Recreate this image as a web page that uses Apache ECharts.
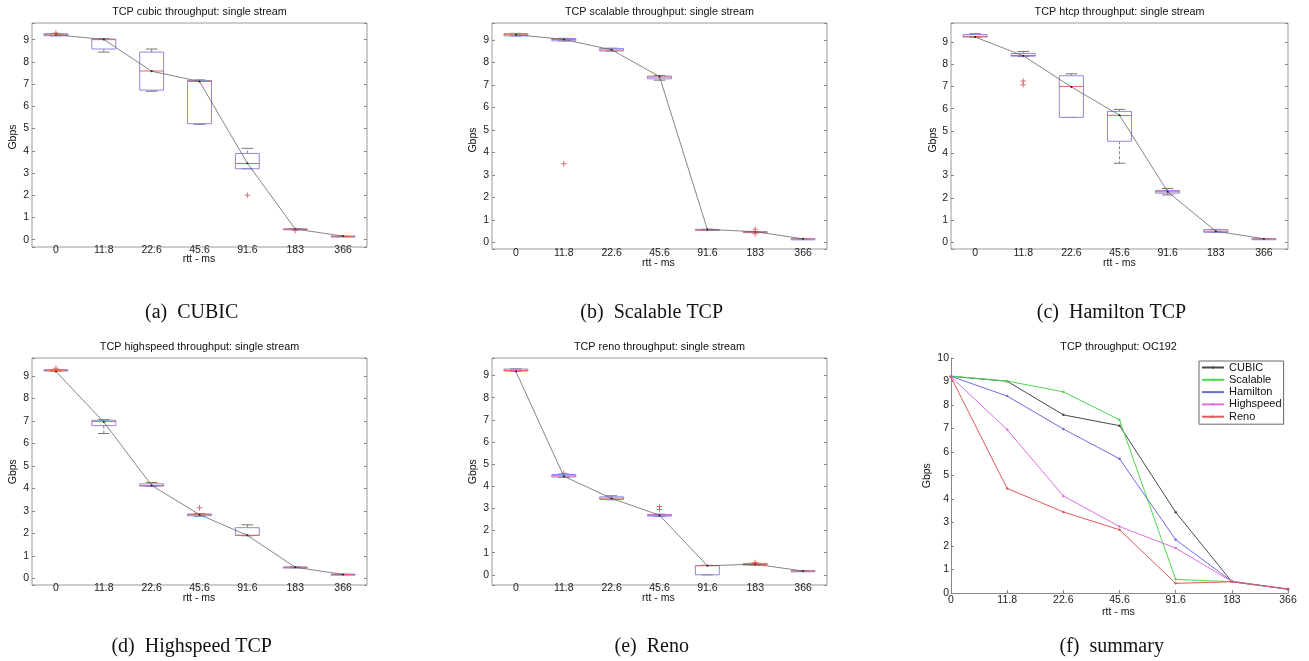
<!DOCTYPE html>
<html><head><meta charset="utf-8">
<script src="https://cdn.jsdelivr.net/npm/echarts@6/dist/echarts.min.js"></script>
<style>html,body{margin:0;padding:0;background:#fff}#c{width:1309px;height:661px}</style>
</head><body><div id="c"></div>
<script>
// ---------------- data ----------------
const rttLabels = ['0', '11.8', '22.6', '45.6', '91.6', '183', '366'];

// box stats per rtt: [min, q1, median, q3, max]
const cubicBox = [
  [9.17, 9.18, 9.22, 9.27, 9.28],
  [8.44, 8.58, 9.00, 9.03, 9.05],
  [6.68, 6.73, 7.59, 8.44, 8.58],
  [5.19, 5.22, 7.12, 7.16, 7.19],
  [3.19, 3.19, 3.43, 3.88, 4.11],
  [0.45, 0.45, 0.47, 0.49, 0.50],
  [0.14, 0.14, 0.15, 0.16, 0.16]
];
const cubicOutliers = [[0, 9.30], [4, 2.00], [5, 0.41]];
const cubicMean = [9.22, 9.01, 7.58, 7.12, 3.44, 0.48, 0.16];

const scalableBox = [
  [9.17, 9.18, 9.23, 9.28, 9.29],
  [8.95, 8.96, 9.02, 9.06, 9.07],
  [8.50, 8.51, 8.55, 8.62, 8.63],
  [7.21, 7.27, 7.35, 7.39, 7.42],
  [0.53, 0.54, 0.56, 0.58, 0.59],
  [0.44, 0.45, 0.46, 0.48, 0.49],
  [0.15, 0.15, 0.16, 0.16, 0.17]
];
const scalableOutliers = [[1, 3.50], [5, 0.59], [5, 0.39]];
const scalableMean = [9.23, 9.02, 8.56, 7.37, 0.58, 0.48, 0.16];

const htcpBox = [
  [9.21, 9.22, 9.25, 9.33, 9.37],
  [8.34, 8.36, 8.39, 8.48, 8.57],
  [5.61, 5.61, 7.00, 7.48, 7.57],
  [3.55, 4.54, 5.70, 5.88, 5.97],
  [2.13, 2.21, 2.27, 2.33, 2.42],
  [0.45, 0.45, 0.50, 0.57, 0.58],
  [0.14, 0.15, 0.15, 0.16, 0.16]
];
const htcpOutliers = [[1, 7.25], [1, 7.08]];
const htcpMean = [9.22, 8.38, 6.98, 5.71, 2.27, 0.50, 0.16];

const highspeedBox = [
  [9.21, 9.22, 9.25, 9.28, 9.29],
  [6.44, 6.79, 6.97, 7.03, 7.06],
  [4.08, 4.10, 4.12, 4.20, 4.26],
  [2.76, 2.78, 2.83, 2.86, 2.88],
  [1.89, 1.91, 1.91, 2.25, 2.38],
  [0.47, 0.48, 0.49, 0.50, 0.51],
  [0.16, 0.17, 0.17, 0.18, 0.18]
];
const highspeedOutliers = [[0, 9.34], [3, 3.14]];
const highspeedMean = [9.20, 6.95, 4.13, 2.83, 1.91, 0.49, 0.17];

const renoBox = [
  [9.19, 9.20, 9.23, 9.29, 9.30],
  [4.40, 4.42, 4.47, 4.53, 4.55],
  [3.39, 3.40, 3.46, 3.52, 3.57],
  [2.63, 2.65, 2.69, 2.72, 2.74],
  [0.00, 0.00, 0.41, 0.42, 0.43],
  [0.43, 0.44, 0.47, 0.51, 0.52],
  [0.16, 0.17, 0.18, 0.18, 0.19]
];
const renoOutliers = [[1, 4.59], [3, 3.09], [3, 2.95], [5, 0.56]];
const renoMean = [9.18, 4.45, 3.45, 2.69, 0.41, 0.48, 0.17];

const panelTitles = [
  'TCP cubic throughput: single stream',
  'TCP scalable throughput: single stream',
  'TCP htcp throughput: single stream',
  'TCP highspeed throughput: single stream',
  'TCP reno throughput: single stream',
  'TCP throughput: OC192'
];
const captions = ['(a)  CUBIC', '(b)  Scalable TCP', '(c)  Hamilton TCP', '(d)  Highspeed TCP', '(e)  Reno', '(f)  summary'];
const legendNames = ['CUBIC', 'Scalable', 'Hamilton', 'Highspeed', 'Reno'];
const summaryColors = ['#4a4a4a', '#4cd94c', '#6d6de0', '#e070e0', '#e05a5a'];

// ---------------- layout ----------------
const SANS = 'Liberation Sans, Arial, sans-serif';
const SERIF = 'Liberation Serif, Times New Roman, serif';
const grids = [
  {left: 32, top: 23, width: 335, height: 224},
  {left: 492, top: 23, width: 335, height: 226},
  {left: 951, top: 23, width: 337, height: 226},
  {left: 32, top: 358, width: 335, height: 227},
  {left: 492, top: 358, width: 335, height: 227},
  {left: 951, top: 358, width: 337, height: 235}
];
const yRanges = [[-0.33, 9.75], [-0.29, 9.75], [-0.30, 9.85], [-0.30, 9.80], [-0.46, 9.79]];
const xLabelMargins = [-2.5, -1, -1, -2.5, -2.5];

const boxes = [cubicBox, scalableBox, htcpBox, highspeedBox, renoBox];
const outliers = [cubicOutliers, scalableOutliers, htcpOutliers, highspeedOutliers, renoOutliers];
const means = [cubicMean, scalableMean, htcpMean, highspeedMean, renoMean];

function renderBox(params, api) {
  const k = api.value(0);
  const v = [1, 2, 3, 4, 5].map(d => api.value(d));
  const bw = api.size([1, 0])[0];
  const cx = api.coord([k, v[2]])[0];
  const y = v.map(val => api.coord([k, val])[1]);
  const hw = bw * 0.25, cw = bw * 0.12;
  const dash = {stroke: '#666', lineWidth: 0.8, lineDash: [3, 2], fill: null};
  const capS = {stroke: '#777', lineWidth: 1, fill: null};
  return {
    type: 'group',
    children: [
      {type: 'line', shape: {x1: cx, y1: y[3], x2: cx, y2: y[4]}, style: dash},
      {type: 'line', shape: {x1: cx, y1: y[1], x2: cx, y2: y[0]}, style: dash},
      {type: 'line', shape: {x1: cx - cw, y1: y[4], x2: cx + cw, y2: y[4]}, style: capS},
      {type: 'line', shape: {x1: cx - cw, y1: y[0], x2: cx + cw, y2: y[0]}, style: capS},
      {type: 'rect', shape: {x: cx - hw, y: y[3], width: 2 * hw, height: Math.max(y[1] - y[3], 1)},
        style: {fill: null, stroke: '#8a8ae0', lineWidth: 1}},
      {type: 'line', shape: {x1: cx - hw, y1: y[2], x2: cx + hw, y2: y[2]}, style: {stroke: '#e06464', lineWidth: 1}}
    ]
  };
}

const intLabel = v => (Math.abs(v - Math.round(v)) < 1e-6 ? String(Math.round(v)) : '');
const PLUS = 'path://M4.1,0H5.9V4.1H10V5.9H5.9V10H4.1V5.9H0V4.1H4.1Z';

const gridOpts = grids.map((g, i) => Object.assign({}, g, i < 5 ? {show: true, borderColor: '#9a9a9a', borderWidth: 1, backgroundColor: 'transparent'} : {show: false}));
const xAxes = [], yAxes = [], series = [];

for (let i = 0; i < 5; i++) {
  xAxes.push({
    type: 'category', gridIndex: i, data: rttLabels, boundaryGap: true,
    axisLine: {show: false}, axisTick: {show: false}, splitLine: {show: false},
    axisLabel: {color: '#222', fontSize: 10.5, fontFamily: SANS, margin: xLabelMargins[i], interval: 0}
  });
  const yBase = {
    type: 'value', gridIndex: i, min: yRanges[i][0], max: yRanges[i][1], splitNumber: 10,
    axisLine: {show: false}, splitLine: {show: false},
    axisTick: {show: true, inside: true, length: 3, lineStyle: {color: '#888'}}
  };
  yAxes.push(Object.assign({}, yBase, {position: 'left',
    axisLabel: {color: '#222', fontSize: 10.5, fontFamily: SANS, margin: 3, formatter: intLabel}}));
  yAxes.push(Object.assign({}, yBase, {position: 'right', axisLabel: {show: false}}));

  series.push({
    type: 'custom', xAxisIndex: i, yAxisIndex: 2 * i, renderItem: renderBox, z: 2,
    encode: {x: 0, y: [1, 2, 3, 4, 5]},
    data: boxes[i].map((b, k) => [k].concat(b)), silent: true
  });
  series.push({
    type: 'line', xAxisIndex: i, yAxisIndex: 2 * i, data: means[i], z: 3,
    symbol: 'circle', symbolSize: 2, itemStyle: {color: '#222'},
    lineStyle: {color: '#666', width: 0.8}, silent: true, animation: false
  });
  series.push({
    type: 'scatter', xAxisIndex: i, yAxisIndex: 2 * i, data: outliers[i], z: 4,
    symbol: PLUS, symbolSize: 5.5, itemStyle: {color: '#e04848'}, silent: true
  });
}

// summary panel
xAxes.push({
  type: 'category', gridIndex: 5, data: rttLabels, boundaryGap: false,
  axisLine: {show: true, lineStyle: {color: '#888', width: 1}},
  axisTick: {show: true, inside: true, length: 3, lineStyle: {color: '#888'}},
  splitLine: {show: false},
  axisLabel: {color: '#222', fontSize: 10.5, fontFamily: SANS, margin: 2, interval: 0}
});
yAxes.push({
  type: 'value', gridIndex: 5, min: 0, max: 10, interval: 1,
  axisLine: {show: true, lineStyle: {color: '#888', width: 1}},
  axisTick: {show: true, inside: true, length: 3, lineStyle: {color: '#888'}},
  splitLine: {show: false},
  axisLabel: {color: '#222', fontSize: 10.5, fontFamily: SANS, margin: 2}
});
legendNames.forEach((name, j) => {
  series.push({
    name: name, type: 'line', xAxisIndex: 5, yAxisIndex: 10, data: means[j],
    symbol: 'circle', symbolSize: 2.5, itemStyle: {color: summaryColors[j]},
    lineStyle: {color: summaryColors[j], width: 1}, silent: true, z: 3 + j
  });
});

// text elements
const graphic = [];
const titlePos = [[199.5, 12], [659.5, 12], [1119.5, 12], [199.5, 347], [659.5, 347], [1118.5, 347]];
panelTitles.forEach((t, i) => graphic.push({type: 'text', x: titlePos[i][0], y: titlePos[i][1],
  style: {text: t, font: '10.8px ' + SANS, fill: '#111', textAlign: 'center', textVerticalAlign: 'middle'}}));
const gbpsPos = [[13, 137], [473.3, 140], [932.7, 140], [13, 471.7], [473, 471.7], [927.3, 475.7]];
gbpsPos.forEach(p => graphic.push({type: 'text', x: p[0], y: p[1], rotation: Math.PI / 2,
  style: {text: 'Gbps', font: '10.5px ' + SANS, fill: '#111', textAlign: 'center', textVerticalAlign: 'middle'}}));
const rttPos = [[199, 259.3], [658.3, 263.3], [1119.3, 263], [199, 597.7], [658.3, 597.7], [1118.3, 611.7]];
rttPos.forEach(p => graphic.push({type: 'text', x: p[0], y: p[1],
  style: {text: 'rtt - ms', font: '10.5px ' + SANS, fill: '#111', textAlign: 'center', textVerticalAlign: 'middle'}}));
const capPos = [[191.7, 313], [651.7, 313], [1111.5, 313], [191.7, 646.7], [651.7, 646.7], [1111.7, 646.7]];
captions.forEach((t, i) => graphic.push({type: 'text', x: capPos[i][0], y: capPos[i][1],
  style: {text: t, font: '20px ' + SERIF, fill: '#111', textAlign: 'center', textVerticalAlign: 'middle'}}));

const chart = echarts.init(document.getElementById('c'), null, {renderer: 'canvas'});
chart.setOption({
  animation: false,
  backgroundColor: '#fff',
  grid: gridOpts,
  xAxis: xAxes,
  yAxis: yAxes,
  legend: {
    data: legendNames, orient: 'vertical', left: 1199, top: 361,
    itemWidth: 22, itemHeight: 3, itemGap: 1.3,
    padding: [1, 2, 2, 2], borderColor: '#666', borderWidth: 1, backgroundColor: '#fff',
    textStyle: {fontSize: 11, fontFamily: SANS, color: '#111'}, selectedMode: false
  },
  graphic: graphic,
  series: series
});
</script>
</body></html>
